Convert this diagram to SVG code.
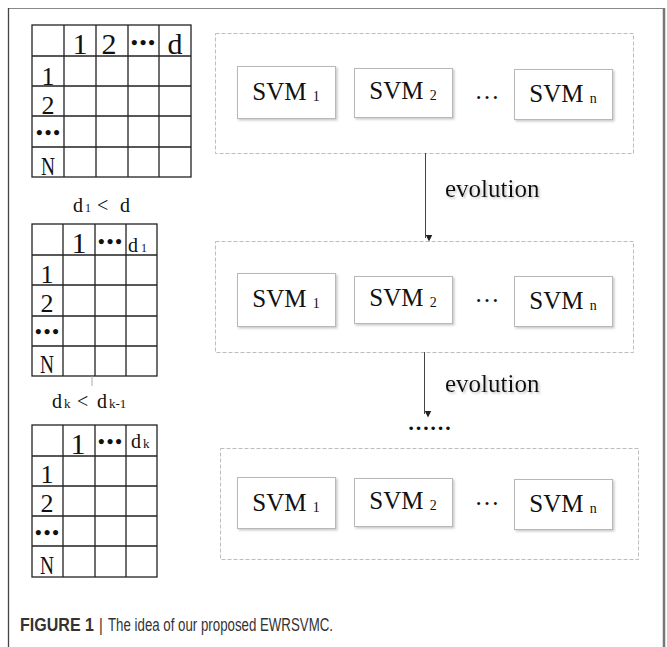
<svg xmlns="http://www.w3.org/2000/svg" width="667" height="647" viewBox="0 0 667 647">
<defs>
<style>
.tbl{fill:none;stroke:#222;stroke-width:1.3}
.t{font-family:"Liberation Serif","Times New Roman",serif;fill:#111}
.big{font-size:30px}
.row{font-size:26px}
.lab{font-size:20px}
.dots{font-size:19px;font-weight:bold}
.grp{fill:none;stroke:#bdbdbd;stroke-width:1;stroke-dasharray:4 2}
.svm{fill:#fff;stroke:#b8b8b8;stroke-width:1;filter:url(#sh)}
.svmt{font-family:"Liberation Serif","Times New Roman",serif;font-size:25px;fill:#111;text-anchor:middle}
.sub{font-size:14px}
.evo{font-family:"Liberation Serif","Times New Roman",serif;font-size:25px;fill:#111;filter:url(#tsh)}
.conn{stroke:#444;stroke-width:1;fill:none;marker-end:url(#ah)}
.cap{font-family:"Liberation Sans",Arial,sans-serif;font-size:14.5px;fill:#333}
</style>
<filter id="sh" x="-10%" y="-10%" width="130%" height="140%">
<feDropShadow dx="1.5" dy="1.5" stdDeviation="1" flood-color="#888" flood-opacity="0.45"/>
</filter>
<filter id="tsh" x="-10%" y="-30%" width="130%" height="170%">
<feDropShadow dx="1.5" dy="1.5" stdDeviation="1" flood-color="#999" flood-opacity="0.6"/>
</filter>
<marker id="ah" markerWidth="7" markerHeight="8" refX="3.5" refY="7" orient="auto-start-reverse" markerUnits="userSpaceOnUse" viewBox="0 0 7 8">
<path d="M0,0 L7,0 L3.5,7 Z" fill="#222" transform="rotate(-90 3.5 3.5)"/>
</marker>
</defs>
<rect width="667" height="647" fill="#fff"/>

<!-- frame -->
<g id="frame">
<line x1="8" y1="8.5" x2="664" y2="8.5" stroke="#888" stroke-width="1"/>
<line x1="8.5" y1="8" x2="8.5" y2="647" stroke="#444" stroke-width="1.3"/>
<line x1="664" y1="8" x2="664" y2="647" stroke="#777" stroke-width="2.5"/>
</g>

<!-- table 1 -->
<g id="table1">
<rect class="tbl" x="32" y="25" width="159" height="152"/>
<path class="tbl" d="M64,25V177M96,25V177M128,25V177M159,25V177M32,56H191M32,86H191M32,116H191M32,147H191"/>
<text class="t big" x="80" y="54" text-anchor="middle">1</text>
<text class="t big" x="109" y="54" text-anchor="middle">2</text>
<text class="t dots" x="143" y="49" text-anchor="middle" textLength="24" lengthAdjust="spacing">•••</text>
<text class="t big" x="175" y="54" text-anchor="middle">d</text>
<text class="t row" x="48" y="85" text-anchor="middle">1</text>
<text class="t row" x="48" y="114" text-anchor="middle">2</text>
<text class="t dots" x="48" y="139" text-anchor="middle" textLength="24" lengthAdjust="spacing">•••</text>
<text class="t row" x="48" y="175" text-anchor="middle" textLength="14" lengthAdjust="spacingAndGlyphs">N</text>
</g>

<g id="label1">
<text class="t lab" y="212"><tspan x="73">d</tspan><tspan x="85" font-size="12">1</tspan><tspan x="97">&lt;</tspan><tspan x="120">d</tspan></text>
</g>

<!-- table 2 -->
<g id="table2">
<rect class="tbl" x="32" y="224" width="125" height="152"/>
<path class="tbl" d="M63,224V376M95,224V376M126,224V376M32,255H157M32,285H157M32,316H157M32,346H157"/>
<text class="t big" x="79" y="253" text-anchor="middle">1</text>
<text class="t dots" x="110" y="248" text-anchor="middle" textLength="24" lengthAdjust="spacing">•••</text>
<text class="t lab" y="252"><tspan x="128">d</tspan><tspan x="141" font-size="12">1</tspan></text>
<text class="t row" x="47" y="283" text-anchor="middle">1</text>
<text class="t row" x="47" y="312" text-anchor="middle">2</text>
<text class="t dots" x="47" y="338" text-anchor="middle" textLength="24" lengthAdjust="spacing">•••</text>
<text class="t row" x="47" y="373" text-anchor="middle" textLength="14" lengthAdjust="spacingAndGlyphs">N</text>
<line x1="92" y1="376" x2="92" y2="386" stroke="#aaa" stroke-width="1"/>
</g>

<g id="label2">
<text class="t lab" y="408"><tspan x="52">d</tspan><tspan x="64" font-size="13">k</tspan><tspan x="77">&lt;</tspan><tspan x="97">d</tspan><tspan x="109" font-size="13">k-1</tspan></text>
</g>

<!-- table 3 -->
<g id="table3">
<rect class="tbl" x="32" y="425" width="125" height="152"/>
<path class="tbl" d="M63,425V577M95,425V577M126,425V577M32,456H157M32,486H157M32,516H157M32,546H157"/>
<text class="t big" x="78" y="454" text-anchor="middle">1</text>
<text class="t dots" x="110" y="448" text-anchor="middle" textLength="24" lengthAdjust="spacing">•••</text>
<text class="t lab" y="448"><tspan x="131">d</tspan><tspan x="143" font-size="13">k</tspan></text>
<text class="t row" x="47" y="483" text-anchor="middle">1</text>
<text class="t row" x="47" y="512" text-anchor="middle">2</text>
<text class="t dots" x="47" y="539" text-anchor="middle" textLength="24" lengthAdjust="spacing">•••</text>
<text class="t row" x="47" y="574" text-anchor="middle" textLength="14" lengthAdjust="spacingAndGlyphs">N</text>
</g>

<!-- group 1 -->
<g id="group1">
<rect class="grp" x="215.5" y="33.5" width="418" height="120"/>
<g id="g1svm1"><rect class="svm" x="237.5" y="66.5" width="98" height="52"/><text class="svmt" x="286" y="100">SVM <tspan class="sub" dy="1">1</tspan></text></g>
<g id="g1svm2"><rect class="svm" x="354.5" y="68.5" width="98" height="49"/><text class="svmt" x="403" y="99">SVM <tspan class="sub" dy="1">2</tspan></text></g>
<text class="svmt" x="487" y="99" font-size="21px">…</text>
<g id="g1svmn"><rect class="svm" x="514.5" y="69.5" width="98" height="50"/><text class="svmt" x="563" y="102">SVM <tspan class="sub" dy="1">n</tspan></text></g>
</g>

<!-- group 2 -->
<g id="group2">
<rect class="grp" x="215.5" y="241.5" width="418" height="111"/>
<g id="g2svm1"><rect class="svm" x="237.5" y="273.5" width="98" height="53"/><text class="svmt" x="286" y="307">SVM <tspan class="sub" dy="1">1</tspan></text></g>
<g id="g2svm2"><rect class="svm" x="354.5" y="276.5" width="98" height="47"/><text class="svmt" x="403" y="306">SVM <tspan class="sub" dy="1">2</tspan></text></g>
<text class="svmt" x="487" y="302" font-size="21px">…</text>
<g id="g2svmn"><rect class="svm" x="514.5" y="276.5" width="98" height="50"/><text class="svmt" x="563" y="309">SVM <tspan class="sub" dy="1">n</tspan></text></g>
</g>

<!-- group 3 -->
<g id="group3">
<rect class="grp" x="220.5" y="448.5" width="418" height="111"/>
<g id="g3svm1"><rect class="svm" x="237.5" y="477.5" width="98" height="51"/><text class="svmt" x="286" y="511">SVM <tspan class="sub" dy="1">1</tspan></text></g>
<g id="g3svm2"><rect class="svm" x="354.5" y="478.5" width="98" height="48"/><text class="svmt" x="403" y="509">SVM <tspan class="sub" dy="1">2</tspan></text></g>
<text class="svmt" x="487" y="505" font-size="21px">…</text>
<g id="g3svmn"><rect class="svm" x="514.5" y="479.5" width="98" height="50"/><text class="svmt" x="563" y="512">SVM <tspan class="sub" dy="1">n</tspan></text></g>
</g>

<!-- connectors -->
<g id="connectors">
<line class="conn" x1="425.5" y1="153" x2="425.5" y2="238"/>
<line class="conn" x1="424.5" y1="352" x2="424.5" y2="414"/>
</g>
<text class="evo" x="445" y="197">evolution</text>
<text class="evo" x="445" y="392">evolution</text>
<text class="t" x="429.5" y="430" font-size="22px" text-anchor="middle" font-weight="bold">……</text>

<!-- caption -->
<g id="caption" transform="translate(20,631) scale(1,1.25)">
<text class="cap" x="0" y="0" font-weight="bold" fill="#231f20" textLength="74" lengthAdjust="spacingAndGlyphs">FIGURE 1</text>
<text class="cap" x="79" y="0">|</text>
<text class="cap" x="88" y="0" textLength="225" lengthAdjust="spacingAndGlyphs">The idea of our proposed EWRSVMC.</text>
</g>
</svg>
